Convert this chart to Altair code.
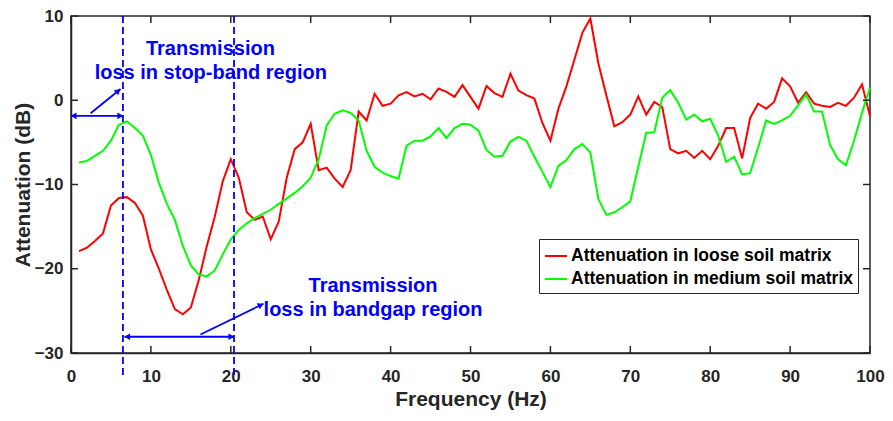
import altair as alt
import pandas as pd

# ---------------- data ----------------
freq = list(range(1, 101))
loose = [-17.9, -17.5, -16.7, -15.8, -12.5, -11.6, -11.5, -12.2, -13.7, -17.7,
         -20.0, -22.5, -24.8, -25.4, -24.6, -21.3, -17.3, -13.8, -9.6, -7.0,
         -9.2, -13.3, -14.2, -13.8, -16.5, -14.4, -9.2, -5.8, -5.0, -2.8,
         -8.3, -8.0, -9.3, -10.3, -8.3, -1.35, -2.4, 0.77, -0.66, -0.4,
         0.58, 0.96, 0.46, 0.77, 0.1, 1.4, 1.0, 0.4, 1.8, 0.4,
         -1.0, 1.7, 0.85, 0.4, 3.15, 1.15, 0.6, 0.2, -2.7, -4.8,
         -1.0, 1.65, 4.8, 8.0, 9.7, 4.4, 0.6, -3.1, -2.6, -1.7,
         0.46, -1.7, -0.2, -0.8, -5.8, -6.3, -6.0, -6.85, -6.0, -7.0,
         -5.4, -3.3, -3.3, -6.9, -2.1, -0.4, -1.0, -0.2, 2.6, 1.65,
         -0.3, 0.96, -0.4, -0.66, -0.8, -0.3, -0.66, 0.3, 1.9, -1.9]
medium = [-7.4, -7.2, -6.6, -6.0, -4.8, -2.9, -2.5, -3.3, -4.2, -6.5,
          -9.8, -12.3, -14.2, -17.3, -19.6, -20.7, -20.9, -20.2, -18.3, -16.5,
          -15.4, -14.6, -14.0, -13.5, -13.0, -12.3, -11.65, -11.0, -10.2, -9.2,
          -7.0, -3.0, -1.6, -1.2, -1.5, -2.4, -6.0, -7.9, -8.6, -9.0,
          -9.3, -5.4, -4.8, -4.8, -4.3, -3.3, -4.5, -3.3, -2.8, -2.9,
          -3.6, -5.9, -6.7, -6.6, -4.9, -4.35, -4.8, -6.7, -8.5, -10.3,
          -7.8, -7.1, -5.8, -5.2, -6.2, -11.7, -13.6, -13.3, -12.7, -12.0,
          -7.9, -3.85, -3.8, 0.3, 1.2, -0.3, -2.3, -1.7, -2.5, -2.2,
          -4.2, -7.3, -6.7, -8.8, -8.65, -5.6, -2.4, -2.8, -2.4, -1.85,
          -0.6, 0.7, -1.35, -1.35, -5.3, -7.0, -7.7, -4.8, -1.5, 1.5]
series_names = ["Attenuation in loose soil matrix", "Attenuation in medium soil matrix"]
series_colors = ["#ff0000", "#00ff00"]

x_ticks = [0, 10, 20, 30, 40, 50, 60, 70, 80, 90, 100]
y_ticks = [-30, -20, -10, 0, 10]

# annotations (data units)
vline_x = [6.5, 20.4]
arrow_x1 = [0.0, 2.46, 6.7, 16.2]
arrow_y1 = [-1.85, -1.55, -28.07, -27.8]
arrow_x2 = [6.5, 6.2, 20.4, 24.1]
arrow_y2 = [-1.85, 1.34, -28.07, -24.15]
head_x = [0.45, 6.05, 5.82, 7.15, 19.95, 23.65]
head_y = [-1.85, -1.85, 1.04, -28.07, -28.07, -24.36]
head_angle = [270, 90, 50, 270, 90, 63.5]
label_x = [17.45, 17.5, 37.8, 37.8]
label_y = [6.07, 3.18, -22.1, -24.9]
label_text = ["Transmission", "loss in stop-band region", "Transmission", "loss in bandgap region"]

# ---------------- layout ----------------
W, H = 799, 337
FONT = "Liberation Sans"
BLUE = "#0000ff"
AX = "#262626"

df = pd.DataFrame({
    "freq": freq * 2,
    "value": loose + medium,
    "series": [series_names[0]] * len(freq) + [series_names[1]] * len(freq),
})

xs = alt.Scale(domain=[0, 100], nice=False, zero=False)
ys = alt.Scale(domain=[-30, 10], nice=False, zero=False)
x_axis = alt.Axis(values=x_ticks, labelPadding=15, titlePadding=4)
y_axis = alt.Axis(values=y_ticks, labelPadding=8, titlePadding=1)
XT = "Frequency (Hz)"
YT = "Attenuation (dB)"


def X(f):
    return alt.X(f, scale=xs, axis=x_axis, title=XT)


def Y(f):
    return alt.Y(f, scale=ys, axis=y_axis, title=YT)


lines = alt.Chart(df).mark_line(strokeWidth=2).encode(
    x=X("freq:Q"),
    y=Y("value:Q"),
    color=alt.Color("series:N",
                    scale=alt.Scale(domain=series_names, range=series_colors),
                    legend=alt.Legend(title=None, orient="none", legendX=468, legendY=223)),
)

vlines = alt.Chart(pd.DataFrame({"x": vline_x})).mark_rule(
    color=BLUE, strokeWidth=1.8, strokeDash=[7, 4]
).encode(x=X("x:Q"), y=alt.value(0), y2=alt.value(H + 25))

arrows = alt.Chart(pd.DataFrame({"x1": arrow_x1, "y1": arrow_y1, "x2": arrow_x2, "y2": arrow_y2})).mark_rule(
    color=BLUE, strokeWidth=1.8
).encode(x=X("x1:Q"), y=Y("y1:Q"), x2="x2:Q", y2="y2:Q")

heads = alt.Chart(pd.DataFrame({"x": head_x, "y": head_y, "a": head_angle})).mark_point(
    shape="triangle", filled=True, color=BLUE, size=45, opacity=1
).encode(x=X("x:Q"), y=Y("y:Q"), angle=alt.Angle("a:Q", scale=None))

labels = alt.Chart(pd.DataFrame({"x": label_x, "y": label_y, "t": label_text})).mark_text(
    color=BLUE, font=FONT, fontSize=20, fontWeight="bold", baseline="middle", align="center"
).encode(x=X("x:Q"), y=Y("y:Q"), text="t:N")

xt = pd.DataFrame({"v": x_ticks})
yt = pd.DataFrame({"v": y_ticks})
tick_b = alt.Chart(xt).mark_rule(color=AX, strokeWidth=1.5).encode(
    x=X("v:Q"), y=alt.value(H), y2=alt.value(H - 7))
tick_t = alt.Chart(xt).mark_rule(color=AX, strokeWidth=1.5).encode(
    x=X("v:Q"), y=alt.value(0), y2=alt.value(7))
tick_l = alt.Chart(yt).mark_rule(color=AX, strokeWidth=1.5).encode(
    y=Y("v:Q"), x=alt.value(0), x2=alt.value(7))
tick_r = alt.Chart(yt).mark_rule(color=AX, strokeWidth=1.5).encode(
    y=Y("v:Q"), x=alt.value(W - 7), x2=alt.value(W))

chart = alt.layer(
    lines, vlines, arrows, heads, labels, tick_b, tick_t, tick_l, tick_r
).properties(
    width=W, height=H,
    autosize=alt.AutoSizeParams(type="none"),
    padding={"left": 63, "top": 8, "right": 15, "bottom": 59},
).configure_view(
    stroke=AX, strokeWidth=1.5
).configure_axis(
    grid=False, ticks=False, tickSize=0,
    domainColor=AX, domainWidth=1.5,
    labelFont=FONT, labelFontSize=17, labelFontWeight="bold", labelColor=AX,
    labelFlush=False, labelOverlap=False,
    titleFont=FONT, titleFontSize=21, titleFontWeight="bold", titleColor=AX,
).configure_legend(
    strokeColor=AX, fillColor="white", padding=5,
    labelFont=FONT, labelFontSize=17.5, labelFontWeight="bold", labelColor="black",
    symbolType="stroke", symbolSize=484, symbolStrokeWidth=2, rowPadding=2, labelOffset=3,
    labelLimit=400,
)

chart.save("out.html", embed_options={"renderer": "svg", "actions": False})
